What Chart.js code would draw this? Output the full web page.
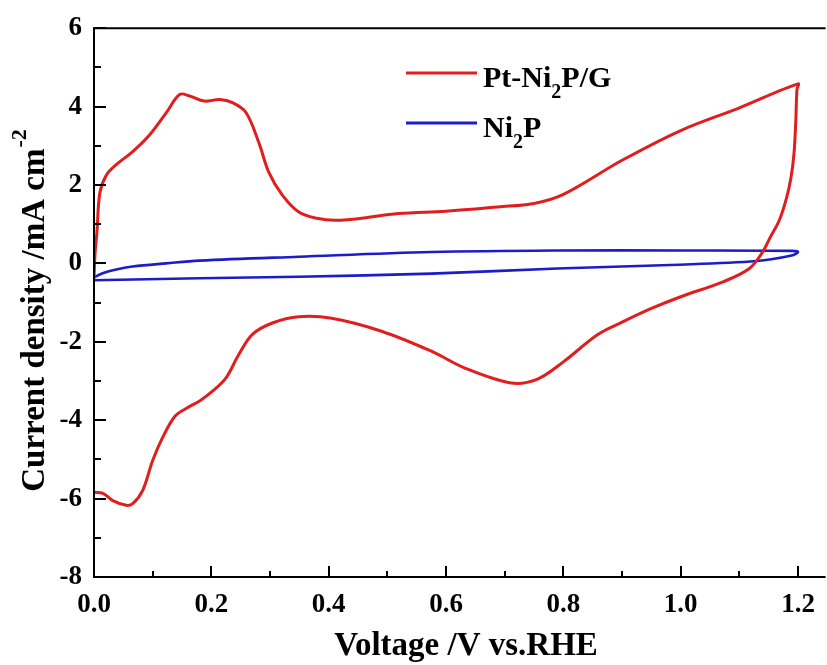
<!DOCTYPE html>
<html>
<head>
<meta charset="utf-8">
<script src="https://cdn.jsdelivr.net/npm/chart.js@4.4.1/dist/chart.umd.min.js"></script>
<style>
  html, body { margin: 0; padding: 0; background: #fff; overflow: hidden; }
</style>
</head>
<body>
<canvas id="cvChart" width="827" height="665"></canvas>
<script>
// Pt-Ni2P/G loop: anodic sweep up to 1.2 V, then cathodic sweep back to 0 V
const ptVoltage = [0.0, 0.002, 0.005, 0.01, 0.021, 0.038, 0.066, 0.095, 0.123, 0.146, 0.163, 0.188, 0.214, 0.236, 0.259, 0.281, 0.298, 0.321, 0.349, 0.38, 0.411, 0.45, 0.519, 0.6, 0.688, 0.75, 0.8, 0.9, 1.0, 1.1, 1.2,
  1.198, 1.196, 1.193, 1.188, 1.18, 1.168, 1.152, 1.14, 1.117, 1.072, 1.0, 0.95, 0.9, 0.858, 0.801, 0.756, 0.711, 0.632, 0.575, 0.49, 0.405, 0.349, 0.304, 0.27, 0.247, 0.225, 0.202, 0.18, 0.157, 0.138, 0.117, 0.1, 0.083, 0.066, 0.055, 0.032, 0.016, 0.0];
const ptCurrent = [-0.35, 0.3, 0.8, 1.8, 2.25, 2.52, 2.85, 3.28, 3.84, 4.31, 4.27, 4.14, 4.18, 4.1, 3.85, 3.08, 2.32, 1.74, 1.31, 1.15, 1.1, 1.14, 1.27, 1.33, 1.44, 1.53, 1.76, 2.63, 3.39, 3.97, 4.58,
  4.43, 3.6, 2.8, 2.2, 1.65, 1.1, 0.65, 0.3, -0.13, -0.47, -0.85, -1.15, -1.5, -1.82, -2.5, -2.95, -3.05, -2.67, -2.24, -1.73, -1.4, -1.36, -1.52, -1.81, -2.32, -2.92, -3.26, -3.51, -3.7, -3.9, -4.44, -5.03, -5.79, -6.13, -6.17, -6.05, -5.87, -5.84];

// Ni2P loop
const niVoltage = [0.0, 0.015, 0.04, 0.066, 0.123, 0.18, 0.349, 0.575, 0.79, 1.0, 1.19, 1.2, 1.191, 1.129, 0.982, 0.79, 0.575, 0.349, 0.18, 0.0];
const niCurrent = [-0.36, -0.25, -0.15, -0.08, 0.0, 0.07, 0.17, 0.29, 0.33, 0.33, 0.32, 0.29, 0.21, 0.06, -0.04, -0.13, -0.26, -0.34, -0.38, -0.43];

const xTicks = [0, 0.1, 0.2, 0.3, 0.4, 0.5, 0.6, 0.7, 0.8, 0.9, 1.0, 1.1, 1.2];
const yTicks = [-8, -7, -6, -5, -4, -3, -2, -1, 0, 1, 2, 3, 4, 5, 6];

const seriesNames = ['Pt-Ni2P/G', 'Ni2P'];
const seriesColors = ['#e01e1e', '#1c1cc8'];

const serif = '"Liberation Serif", "Times New Roman", serif';

function toPoints(xs, ys) {
  return xs.map((v, i) => ({ x: v, y: ys[i] }));
}

// axis frame, inward ticks, titles and legend with sub/superscripts
const decorations = {
  id: 'decorations',
  afterDatasetsDraw(chart) {
    const { ctx, chartArea: a, scales } = chart;
    ctx.save();
    ctx.strokeStyle = '#000';
    ctx.lineWidth = 2;
    ctx.beginPath();
    ctx.moveTo(a.right + 4, a.top);
    ctx.lineTo(a.left, a.top);
    ctx.lineTo(a.left, a.bottom);
    ctx.lineTo(a.right + 4, a.bottom);
    xTicks.forEach((v, i) => {
      const px = Math.round(scales.x.getPixelForValue(v));
      const len = i % 2 === 0 ? 11 : 6;
      ctx.moveTo(px, a.bottom);
      ctx.lineTo(px, a.bottom - len);
    });
    yTicks.forEach(v => {
      const py = Math.round(scales.y.getPixelForValue(v));
      const len = v % 2 === 0 ? 12 : 7;
      ctx.moveTo(a.left, py);
      ctx.lineTo(a.left + len, py);
    });
    ctx.stroke();

    ctx.fillStyle = '#000';
    // x title
    ctx.font = 'bold 33px ' + serif;
    ctx.textAlign = 'center';
    ctx.textBaseline = 'alphabetic';
    ctx.fillText('Voltage /V vs.RHE', 466, 655);

    // y title with superscript
    ctx.save();
    ctx.translate(44, 311);
    ctx.rotate(-Math.PI / 2);
    ctx.textAlign = 'left';
    ctx.font = 'bold 33px ' + serif;
    const main = 'Current density /mA cm';
    const w1 = ctx.measureText(main).width;
    ctx.font = 'bold 22px ' + serif;
    const w2 = ctx.measureText('-2').width;
    const start = -(w1 + w2) / 2;
    ctx.font = 'bold 33px ' + serif;
    ctx.fillText(main, start, 0);
    ctx.font = 'bold 22px ' + serif;
    ctx.fillText('-2', start + w1 + 1, -18);
    ctx.restore();

    // legend
    const legendY = [73, 123];
    seriesNames.forEach((name, i) => {
      ctx.strokeStyle = seriesColors[i];
      ctx.lineWidth = 3;
      ctx.beginPath();
      ctx.moveTo(406, legendY[i]);
      ctx.lineTo(477, legendY[i]);
      ctx.stroke();
      const parts = name.split('2');
      let x = 483;
      const base = legendY[i] + 14;
      ctx.textAlign = 'left';
      ctx.font = 'bold 30px ' + serif;
      ctx.fillText(parts[0], x, base);
      x += ctx.measureText(parts[0]).width;
      ctx.font = 'bold 20px ' + serif;
      ctx.fillText('2', x, base + 11);
      x += ctx.measureText('2').width;
      ctx.font = 'bold 30px ' + serif;
      ctx.fillText(parts[1], x, base);
    });
    ctx.restore();
  }
};

const tickFont = { family: serif, size: 27, weight: 'bold' };

new Chart(document.getElementById('cvChart').getContext('2d'), {
  type: 'scatter',
  data: {
    datasets: [
      {
        label: seriesNames[0],
        data: toPoints(ptVoltage, ptCurrent),
        showLine: true,
        borderColor: seriesColors[0],
        borderWidth: 3,
        pointRadius: 0,
        tension: 0.35,
        fill: false
      },
      {
        label: seriesNames[1],
        data: toPoints(niVoltage, niCurrent),
        showLine: true,
        borderColor: seriesColors[1],
        borderWidth: 2.6,
        pointRadius: 0,
        tension: 0.35,
        fill: false
      }
    ]
  },
  options: {
    responsive: false,
    animation: false,
    layout: { padding: { top: 25, right: 1, left: 0, bottom: 0 } },
    plugins: { legend: { display: false }, tooltip: { enabled: false } },
    scales: {
      x: {
        type: 'linear',
        min: 0,
        max: 1.24,
        afterBuildTicks: s => { s.ticks = xTicks.map(v => ({ value: v })); },
        afterFit: s => { s.height = 88; },
        grid: { display: false, drawTicks: false },
        border: { display: false },
        ticks: {
          autoSkip: false,
          maxRotation: 0,
          padding: 12,
          color: '#000',
          font: tickFont,
          callback: (v, i) => (i % 2 === 0 ? Number(v).toFixed(1) : '')
        }
      },
      y: {
        type: 'linear',
        min: -8,
        max: 6,
        afterBuildTicks: s => { s.ticks = yTicks.map(v => ({ value: v })); },
        afterFit: s => { s.width = 94; },
        grid: { display: false, drawTicks: false },
        border: { display: false },
        ticks: {
          autoSkip: false,
          padding: 12,
          color: '#000',
          font: tickFont,
          callback: v => (v % 2 === 0 ? String(v) : '')
        }
      }
    }
  },
  plugins: [decorations]
});
</script>
</body>
</html>
